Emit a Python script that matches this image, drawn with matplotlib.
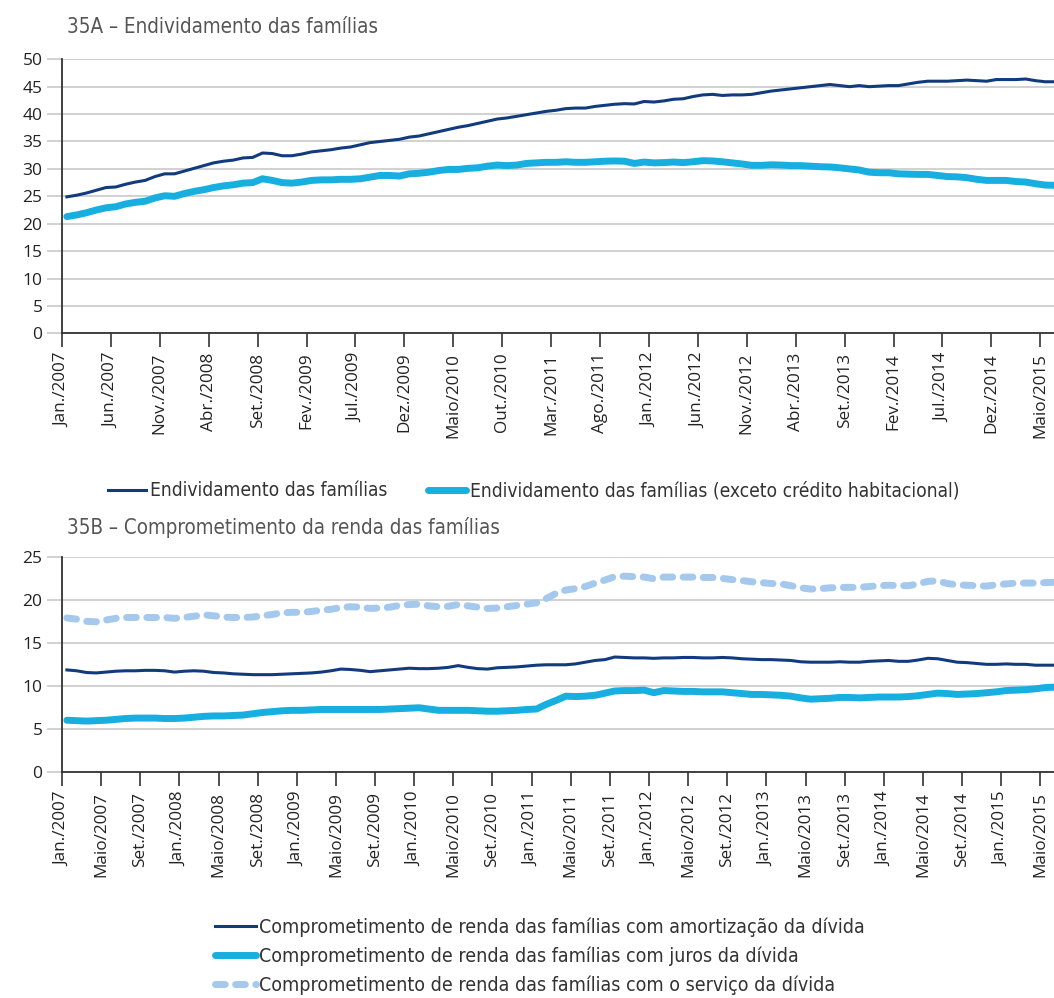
import numpy as np
import matplotlib
matplotlib.use("Agg")
import matplotlib.pyplot as plt

# 35A - endividamento das famílias (% , mensal, jan/2007 - jun/2015)
endiv = [24.9, 25.2, 25.6, 26.1, 26.6, 26.7, 27.2, 27.6, 27.9, 28.6,
         29.1, 29.1, 29.6, 30.1, 30.6, 31.1, 31.4, 31.6, 32.0, 32.1,
         32.9, 32.8, 32.4, 32.4, 32.7, 33.1, 33.3, 33.5, 33.8, 34.0,
         34.4, 34.8, 35.0, 35.2, 35.4, 35.8, 36.0, 36.4, 36.8, 37.2,
         37.6, 37.9, 38.3, 38.7, 39.1, 39.3, 39.6, 39.9, 40.2, 40.5,
         40.7, 41.0, 41.1, 41.1, 41.4, 41.6, 41.8, 41.9, 41.85, 42.3,
         42.2, 42.4, 42.7, 42.8, 43.2, 43.5, 43.6, 43.4, 43.5, 43.5,
         43.6, 43.9, 44.2, 44.4, 44.6, 44.8, 45.0, 45.2, 45.4, 45.2,
         45.0, 45.2, 45.0, 45.1, 45.2, 45.2, 45.5, 45.8, 46.0, 46.0,
         46.0, 46.1, 46.2, 46.1, 46.0, 46.3, 46.3, 46.3, 46.4, 46.1,
         45.9, 45.9]
endiv_sem_hab = [21.3, 21.6, 22.0, 22.5, 22.9, 23.1, 23.6, 23.9, 24.1, 24.7,
                 25.1, 25.0, 25.5, 25.9, 26.2, 26.6, 26.9, 27.1, 27.4, 27.5,
                 28.2, 27.9, 27.5, 27.4, 27.6, 27.9, 28.0, 28.0, 28.1, 28.1,
                 28.2, 28.5, 28.8, 28.8, 28.7, 29.1, 29.2, 29.4, 29.7, 29.9,
                 29.9, 30.1, 30.2, 30.5, 30.7, 30.6, 30.7, 31.0, 31.1, 31.2,
                 31.2, 31.3, 31.2, 31.2, 31.3, 31.4, 31.45, 31.4, 31.0, 31.25,
                 31.1, 31.15, 31.25, 31.15, 31.3, 31.5, 31.45, 31.3, 31.1, 30.9,
                 30.65, 30.65, 30.75, 30.7, 30.6, 30.6, 30.5, 30.4, 30.35, 30.2,
                 30.0, 29.8, 29.4, 29.3, 29.3, 29.1, 29.05, 29.0, 29.0, 28.8,
                 28.6, 28.55, 28.4, 28.1, 27.9, 27.9, 27.9, 27.7, 27.6, 27.3,
                 27.05, 27.0]

# 35B - comprometimento da renda (%)
amortizacao = [11.9, 11.8, 11.6, 11.55, 11.65, 11.75, 11.8, 11.8, 11.85, 11.85,
               11.8, 11.65, 11.75, 11.8, 11.75, 11.6, 11.55, 11.45, 11.4, 11.35,
               11.35, 11.35, 11.4, 11.45, 11.5, 11.55, 11.65, 11.8, 12.0, 11.95,
               11.85, 11.7, 11.8, 11.9, 12.0, 12.1, 12.05, 12.05, 12.1, 12.2,
               12.4, 12.2, 12.05, 12.0, 12.15, 12.2, 12.25, 12.35, 12.45, 12.5,
               12.5, 12.5, 12.6, 12.8, 13.0, 13.1, 13.4, 13.35, 13.3, 13.3,
               13.25, 13.3, 13.3, 13.35, 13.35, 13.3, 13.3, 13.35, 13.3, 13.2,
               13.15, 13.1, 13.1, 13.05, 13.0, 12.85, 12.8, 12.8, 12.8, 12.85,
               12.8, 12.8, 12.9, 12.95, 13.0, 12.9, 12.9, 13.05, 13.25, 13.2,
               13.0, 12.8, 12.75, 12.65, 12.55, 12.55, 12.6, 12.55, 12.55, 12.45,
               12.45, 12.45]
juros = [6.05, 6.0, 5.95, 6.0, 6.05, 6.15, 6.25, 6.3, 6.3, 6.3,
         6.25, 6.25, 6.3, 6.4, 6.5, 6.55, 6.55, 6.6, 6.65, 6.8,
         6.95, 7.05, 7.15, 7.2, 7.2, 7.25, 7.3, 7.3, 7.3, 7.3,
         7.3, 7.3, 7.3, 7.35, 7.4, 7.45, 7.5, 7.35, 7.2, 7.2,
         7.2, 7.2, 7.15, 7.1, 7.1, 7.15, 7.2, 7.3, 7.35, 7.9,
         8.35, 8.85, 8.8, 8.85, 8.95, 9.2, 9.45, 9.5, 9.5, 9.55,
         9.25, 9.5, 9.45, 9.4, 9.4, 9.35, 9.35, 9.35, 9.25, 9.15,
         9.05, 9.05, 9.0, 8.95, 8.85, 8.65, 8.5, 8.55, 8.6, 8.7,
         8.7, 8.65, 8.7, 8.75, 8.75, 8.75, 8.8, 8.9, 9.05, 9.2,
         9.15, 9.05, 9.1, 9.15, 9.25, 9.35, 9.5, 9.55, 9.6, 9.7,
         9.85, 9.9]
servico = [17.95, 17.8, 17.55, 17.5, 17.7, 17.9, 18.0, 18.0, 18.0, 18.0,
           18.0, 17.9, 18.0, 18.15, 18.3, 18.2, 18.05, 18.0, 18.0, 18.05,
           18.2, 18.35, 18.55, 18.6, 18.6, 18.7, 18.85, 18.95, 19.15, 19.25,
           19.2, 19.05, 19.1, 19.2, 19.4, 19.5, 19.55, 19.35, 19.25, 19.3,
           19.5, 19.35, 19.2, 19.05, 19.1, 19.25, 19.4, 19.55, 19.7, 20.2,
           20.8, 21.2, 21.35, 21.6, 22.0, 22.35, 22.75, 22.8, 22.75, 22.7,
           22.5, 22.7, 22.7, 22.7, 22.7, 22.65, 22.65, 22.55, 22.4, 22.3,
           22.15, 22.05, 21.95, 21.9, 21.7, 21.45, 21.3, 21.35, 21.45, 21.5,
           21.5, 21.5, 21.6, 21.7, 21.75, 21.7, 21.7, 21.9, 22.2, 22.25,
           21.95, 21.8, 21.75, 21.7, 21.65, 21.8, 21.9, 22.0, 22.0, 22.0,
           22.05, 22.1]

labels_a = ["Jan./2007", "Jun./2007", "Nov./2007", "Abr./2008", "Set./2008",
            "Fev./2009", "Jul./2009", "Dez./2009", "Maio/2010", "Out./2010",
            "Mar./2011", "Ago./2011", "Jan./2012", "Jun./2012", "Nov./2012",
            "Abr./2013", "Set./2013", "Fev./2014", "Jul./2014", "Dez./2014",
            "Maio/2015"]
labels_b = ["Jan./2007", "Maio/2007", "Set./2007", "Jan./2008", "Maio/2008",
            "Set./2008", "Jan./2009", "Maio/2009", "Set./2009", "Jan./2010",
            "Maio/2010", "Set./2010", "Jan./2011", "Maio/2011", "Set./2011",
            "Jan./2012", "Maio/2012", "Set./2012", "Jan./2013", "Maio/2013",
            "Set./2013", "Jan./2014", "Maio/2014", "Set./2014", "Jan./2015",
            "Maio/2015"]

navy = "#123b7e"
cyan = "#17afdf"
pale = "#a4c9ec"
grid = "#cacaca"
cond = dict(family="DejaVu Sans", stretch="condensed")

plt.rcParams["font.family"] = ["Open Sans", "DejaVu Sans"]

fig = plt.figure(figsize=(10.54, 9.98), dpi=100)
ax1 = fig.add_axes([0.0588, 0.666, 0.9412, 0.2746])
ax2 = fig.add_axes([0.0588, 0.2262, 0.9412, 0.2154])

x = np.arange(len(endiv)) + 0.5


def style(ax, ymax, labels, step):
    ax.set_ylim(0, ymax)
    ax.set_xlim(0, 101.4)
    ax.set_yticks(np.arange(0, ymax + 1, 5))
    ax.set_xticks(np.arange(0, 101, step))
    ax.set_xticklabels(labels, rotation=90, fontsize=12.3, color="#222222")
    ax.tick_params(axis="y", length=11, width=1.2, color=grid, labelsize=12.5,
                   labelcolor="#222222", pad=3)
    ax.tick_params(axis="x", length=10, width=1.2, color="#333333", pad=4)
    ax.yaxis.get_major_ticks()[0].tick1line.set_color("#333333")
    ax.grid(axis="y", color=grid, lw=1.2)
    ax.set_axisbelow(True)
    for s in ["top", "right"]:
        ax.spines[s].set_visible(False)
    for s in ["left", "bottom"]:
        ax.spines[s].set_color("#333333")
        ax.spines[s].set_linewidth(1.3)


style(ax1, 50, labels_a, 5)
style(ax2, 25, labels_b, 4)

ax1.plot(x, endiv_sem_hab, color=cyan, lw=5, solid_capstyle="round",
         label="Endividamento das famílias (exceto crédito habitacional)")
ax1.plot(x, endiv, color=navy, lw=2.2,
         label="Endividamento das famílias")

ax2.plot(x, servico, color=pale, lw=5, linestyle=(0, (1.4, 1.5)),
         dash_capstyle="round",
         label="Comprometimento de renda das famílias com o serviço da dívida")
ax2.plot(x, juros, color=cyan, lw=5, solid_capstyle="round",
         label="Comprometimento de renda das famílias com juros da dívida")
ax2.plot(x, amortizacao, color=navy, lw=2.2,
         label="Comprometimento de renda das famílias com amortização da dívida")

fig.text(67 / 1054, 1 - 27 / 998, "35A – Endividamento das famílias",
         fontsize=14.8, color="#555555", va="center", ha="left", **cond)
fig.text(67 / 1054, 1 - 527 / 998, "35B – Comprometimento da renda das famílias",
         fontsize=14.8, color="#555555", va="center", ha="left", **cond)

h1, l1 = ax1.get_legend_handles_labels()
leg1 = fig.legend([h1[1], h1[0]], [l1[1], l1[0]], loc="center left",
                  bbox_to_anchor=(108 / 1054, 1 - 491 / 998), ncol=2,
                  frameon=False, borderpad=0, borderaxespad=0,
                  handlelength=2.0, handletextpad=0.2,
                  columnspacing=2.1, prop=dict(size=13.8, **cond))
h2, l2 = ax2.get_legend_handles_labels()
leg2 = fig.legend([h2[2], h2[1], h2[0]], [l2[2], l2[1], l2[0]], loc="center left",
                  bbox_to_anchor=(215 / 1054, 1 - 956 / 998), ncol=1,
                  frameon=False, borderpad=0, borderaxespad=0,
                  handlelength=2.1, handletextpad=0.15,
                  labelspacing=0.5, prop=dict(size=14, **cond))
for leg in (leg1, leg2):
    for t in leg.get_texts():
        t.set_color("#333333")

fig.savefig("out.png", dpi=100)
